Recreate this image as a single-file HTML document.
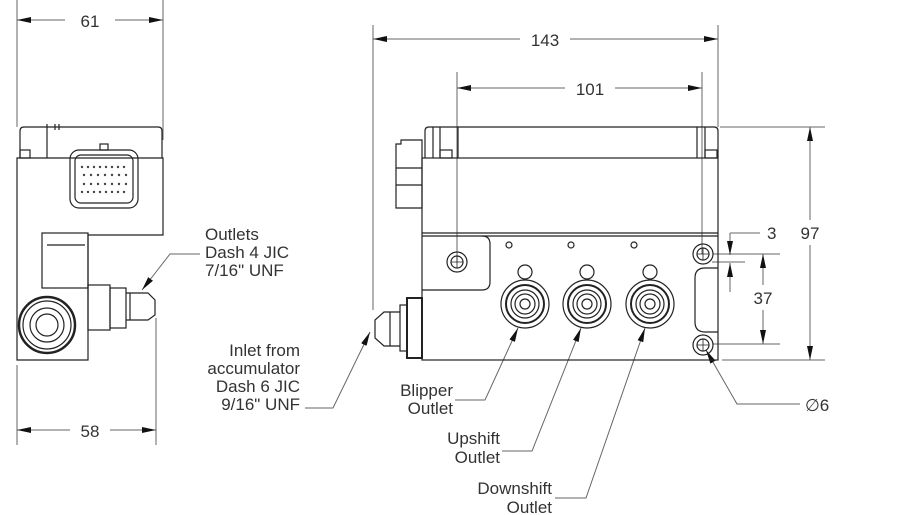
<!DOCTYPE html>
<html><head><meta charset="utf-8"><style>
html,body{margin:0;padding:0;background:#fff;}
svg{display:block;}
text{font-family:"Liberation Sans",sans-serif;font-size:17px;fill:#333;}
</style></head><body>
<svg width="900" height="515" viewBox="0 0 900 515" xmlns="http://www.w3.org/2000/svg">
<defs>
<marker id="a" markerWidth="14" markerHeight="6" refX="14" refY="3" orient="auto-start-reverse" markerUnits="userSpaceOnUse"><path d="M0,0 L14,3 L0,6 z" fill="#111"/></marker>
</defs>
<g stroke="#666" stroke-width="1" fill="none">
<line x1="17" y1="0" x2="17" y2="127"/><line x1="163" y1="0" x2="163" y2="140"/>
<line x1="17" y1="20" x2="65" y2="20" marker-start="url(#a)"/>
<line x1="115" y1="20" x2="163" y2="20" marker-end="url(#a)"/>
<line x1="17" y1="365" x2="17" y2="445"/><line x1="156" y1="318" x2="156" y2="445"/>
<line x1="17" y1="430" x2="70" y2="430" marker-start="url(#a)"/>
<line x1="110" y1="430" x2="156" y2="430" marker-end="url(#a)"/>
<line x1="373" y1="25" x2="373" y2="310"/><line x1="718" y1="25" x2="718" y2="127"/>
<line x1="373" y1="39" x2="520" y2="39" marker-start="url(#a)"/>
<line x1="570" y1="39" x2="718" y2="39" marker-end="url(#a)"/>
<line x1="457" y1="72" x2="457" y2="262"/><line x1="702" y1="72" x2="702" y2="254"/>
<line x1="457" y1="88" x2="565" y2="88" marker-start="url(#a)"/>
<line x1="615" y1="88" x2="702" y2="88" marker-end="url(#a)"/>
<line x1="720" y1="127" x2="825" y2="127"/><line x1="722" y1="360" x2="825" y2="360"/>
<line x1="810" y1="127" x2="810" y2="220" marker-start="url(#a)"/>
<line x1="810" y1="245" x2="810" y2="360" marker-end="url(#a)"/>
<line x1="713" y1="254" x2="780" y2="254"/><line x1="713" y1="344" x2="780" y2="344"/>
<line x1="763" y1="254" x2="763" y2="285" marker-start="url(#a)"/>
<line x1="763" y1="310" x2="763" y2="344" marker-end="url(#a)"/>
<line x1="730" y1="233" x2="760" y2="233"/><line x1="712" y1="262" x2="745" y2="262"/>
<line x1="730" y1="233" x2="730" y2="255" marker-end="url(#a)"/>
<line x1="730" y1="292" x2="730" y2="263" marker-end="url(#a)"/>
<polyline points="800,404 737,404 706,350" marker-end="url(#a)"/>
<polyline points="200,254 170,254 142,290" marker-end="url(#a)"/>
<polyline points="305,408 333,408 370,332" marker-end="url(#a)"/>
<polyline points="455,400 485,400 518,328" marker-end="url(#a)"/>
<polyline points="502,451 532,451 581,328" marker-end="url(#a)"/>
<polyline points="555,498 586,498 645,328" marker-end="url(#a)"/>
</g>
<g stroke="#222" stroke-width="1.2" fill="none">
<path d="M20,158 V131 Q20,127 24,127 H158 Q162,127 162,131 V158"/>
<line x1="47" y1="124" x2="47" y2="158"/><line x1="55" y1="124" x2="55" y2="130"/><line x1="59" y1="124" x2="59" y2="130"/>
<rect x="20" y="150" width="10" height="8"/>
<path d="M17,158 H163 V235 H88 V360 H17 Z"/>
<rect x="42" y="233" width="46" height="55"/>
<line x1="47" y1="245" x2="85" y2="245"/>
<rect x="70" y="150" width="68" height="58" rx="9"/>
<rect x="75" y="155" width="58" height="48" rx="6"/>
<rect x="100" y="144" width="8" height="6"/>
<g fill="#444" stroke="none">
<circle cx="82" cy="167" r="1.2"/><circle cx="88" cy="167" r="1.2"/><circle cx="94" cy="167" r="1.2"/><circle cx="100" cy="167" r="1.2"/><circle cx="106" cy="167" r="1.2"/><circle cx="112" cy="167" r="1.2"/><circle cx="118" cy="167" r="1.2"/><circle cx="124" cy="167" r="1.2"/>
<circle cx="84" cy="175" r="1.2"/><circle cx="91" cy="175" r="1.2"/><circle cx="98" cy="175" r="1.2"/><circle cx="105" cy="175" r="1.2"/><circle cx="112" cy="175" r="1.2"/><circle cx="119" cy="175" r="1.2"/><circle cx="126" cy="175" r="1.2"/>
<circle cx="84" cy="184" r="1.2"/><circle cx="91" cy="184" r="1.2"/><circle cx="98" cy="184" r="1.2"/><circle cx="105" cy="184" r="1.2"/><circle cx="112" cy="184" r="1.2"/><circle cx="119" cy="184" r="1.2"/><circle cx="126" cy="184" r="1.2"/>
<circle cx="82" cy="192" r="1.2"/><circle cx="88" cy="192" r="1.2"/><circle cx="94" cy="192" r="1.2"/><circle cx="100" cy="192" r="1.2"/><circle cx="106" cy="192" r="1.2"/><circle cx="112" cy="192" r="1.2"/><circle cx="118" cy="192" r="1.2"/><circle cx="124" cy="192" r="1.2"/>
</g>
<circle cx="47" cy="325" r="28" stroke-width="2.5"/>
<circle cx="47" cy="325" r="24"/>
<circle cx="47" cy="325" r="17"/>
<circle cx="47" cy="325" r="11"/>
<rect x="88" y="285" width="22" height="45"/>
<rect x="110" y="288" width="16" height="40"/>
<path d="M126,293 H148 L155,300 V315 L148,320 H126"/>
<line x1="130" y1="293" x2="130" y2="320"/>
<path d="M425,158 V131 Q425,127 429,127 H714 Q718,127 718,131 V158"/>
<line x1="433" y1="127" x2="433" y2="158"/><line x1="440" y1="127" x2="440" y2="158"/><line x1="458" y1="127" x2="458" y2="158"/>
<line x1="697" y1="127" x2="697" y2="158"/><line x1="705" y1="127" x2="705" y2="158"/>
<rect x="440" y="150" width="12" height="8"/><rect x="705" y="150" width="12" height="8"/>
<path d="M396,144 H401 V140 H422 V208 H396 Z"/>
<line x1="396" y1="168" x2="422" y2="168"/><line x1="396" y1="185" x2="422" y2="185"/>
<rect x="422" y="158" width="296" height="202"/>
<line x1="422" y1="233" x2="718" y2="233"/><line x1="422" y1="236" x2="718" y2="236"/>
<path d="M422,290 H482 Q490,290 490,282 V244 Q490,236 482,236"/>
<path d="M718,268 H705 Q695,268 695,278 V322 Q695,332 705,332 H718"/>
<circle cx="457" cy="262" r="10"/><circle cx="457" cy="262" r="6"/>
<path d="M451,262 H463 M457,256 V268" stroke-width="0.8"/>
<circle cx="703" cy="254" r="10"/><circle cx="703" cy="254" r="6"/>
<path d="M697,254 H709 M703,248 V260" stroke-width="0.8"/>
<circle cx="703" cy="345" r="10"/><circle cx="703" cy="345" r="6"/>
<path d="M697,345 H709 M703,339 V351" stroke-width="0.8"/>
<circle cx="509" cy="245" r="3"/><circle cx="571" cy="245" r="3"/><circle cx="634" cy="245" r="3"/>
<g id="f">
<circle cx="525" cy="272" r="7"/>
<circle cx="525" cy="304" r="24"/>
<circle cx="525" cy="304" r="19" stroke-width="2"/>
<circle cx="525" cy="304" r="14"/>
<circle cx="525" cy="304" r="10"/>
<circle cx="525" cy="304" r="5"/>
</g>
<use href="#f" x="62"/>
<use href="#f" x="125"/>
<rect x="407" y="298" width="15" height="60" stroke-width="2"/>
<rect x="400" y="305" width="7" height="46"/>
<path d="M400,312 H384 L375,320 V338 L384,346 H400"/>
<line x1="390" y1="312" x2="390" y2="346"/>
</g>
<g>
<text x="90" y="27" text-anchor="middle">61</text>
<text x="90" y="437" text-anchor="middle">58</text>
<text x="545" y="46" text-anchor="middle">143</text>
<text x="590" y="95" text-anchor="middle">101</text>
<text x="810" y="239" text-anchor="middle">97</text>
<text x="763" y="304" text-anchor="middle">37</text>
<text x="767" y="239">3</text>
<text x="805" y="411">∅6</text>
<text x="205" y="240">Outlets</text>
<text x="205" y="258">Dash 4 JIC</text>
<text x="205" y="276">7/16" UNF</text>
<text x="300" y="356" text-anchor="end">Inlet from</text>
<text x="300" y="374" text-anchor="end">accumulator</text>
<text x="300" y="392" text-anchor="end">Dash 6 JIC</text>
<text x="300" y="410" text-anchor="end">9/16" UNF</text>
<text x="453" y="396" text-anchor="end">Blipper</text>
<text x="453" y="414" text-anchor="end">Outlet</text>
<text x="500" y="444" text-anchor="end">Upshift</text>
<text x="500" y="463" text-anchor="end">Outlet</text>
<text x="552" y="494" text-anchor="end">Downshift</text>
<text x="552" y="513" text-anchor="end">Outlet</text>
</g>
</svg>
</body></html>
